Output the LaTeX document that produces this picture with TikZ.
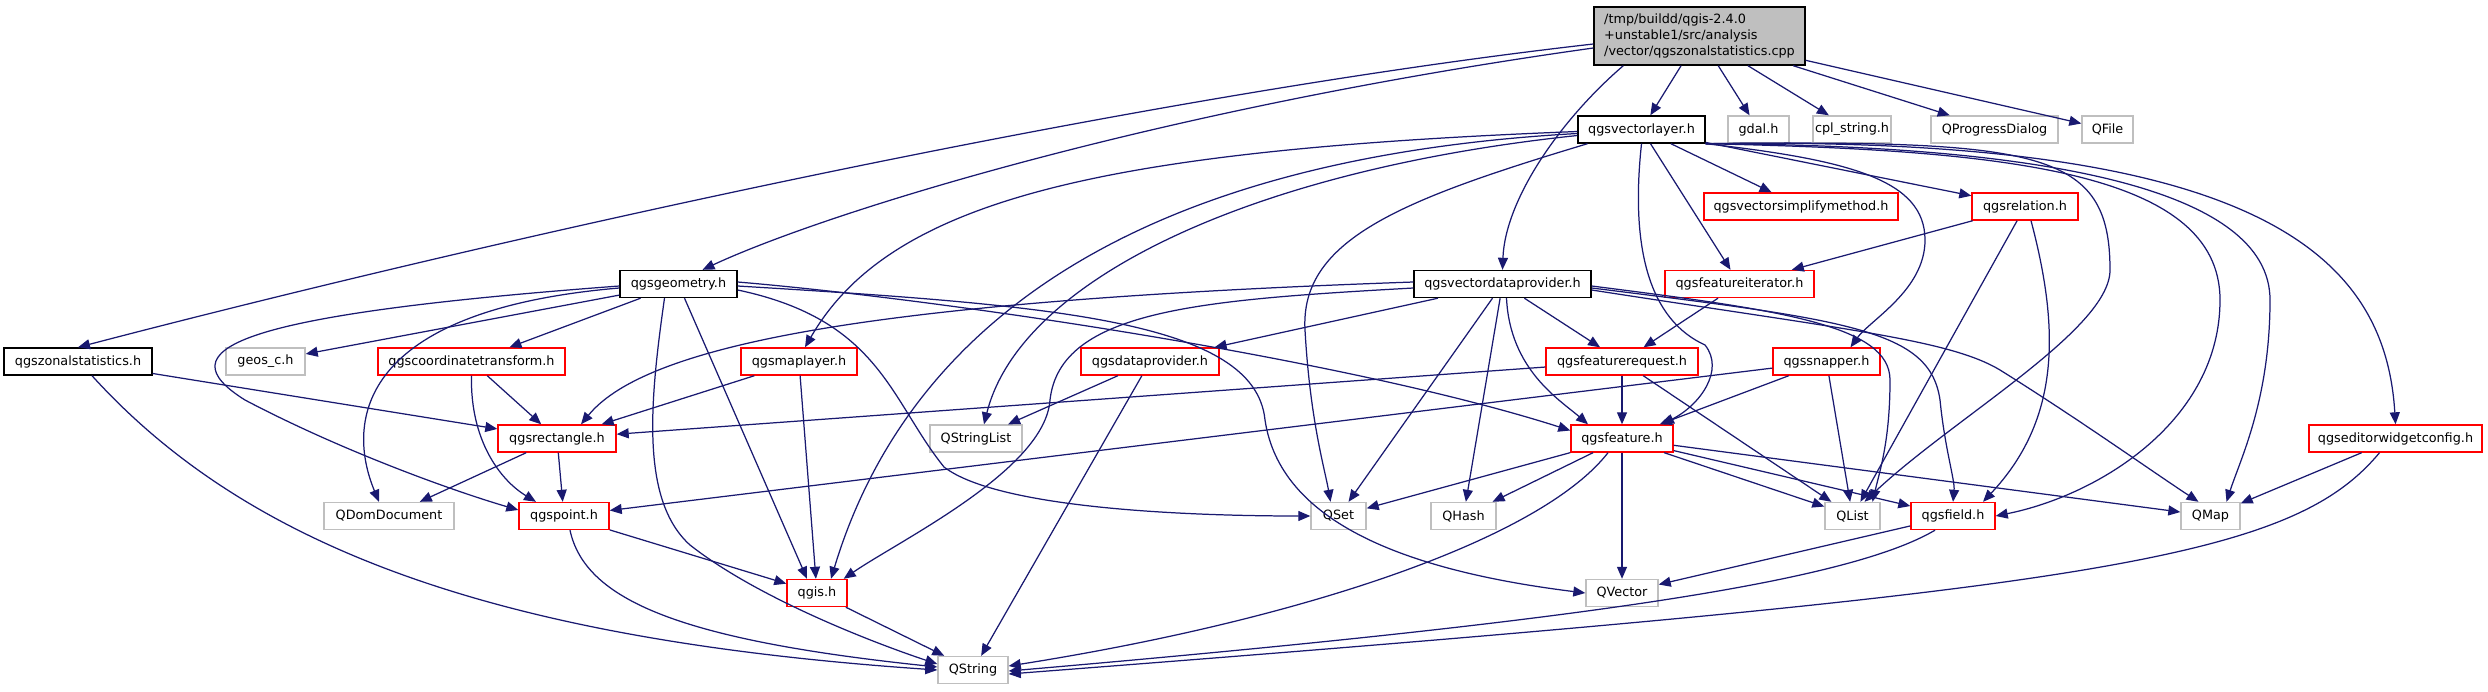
\documentclass[tikz,border=0pt]{standalone}
\usepackage{fontspec}
\setmainfont{DejaVu Sans}
\usetikzlibrary{arrows.meta}
\definecolor{edgeblue}{HTML}{191970}
\definecolor{boxgray}{HTML}{BFBFBF}

\begin{document}
\begin{tikzpicture}[
  x=0.5pt, y=-0.5pt,
  font=\fontsize{6.4}{7.9}\selectfont,
  file/.style={draw, line width=0.7pt, minimum height=13.5pt, inner sep=0pt, fill=white},
  doc/.style={file, draw=black},
  hdr/.style={file, draw=red},
  sys/.style={file, draw=boxgray},
  src/.style={file, draw=black, fill=boxgray, align=left, minimum height=29pt},
  dep/.style={-{Triangle[length=6pt,width=5pt]}, draw=edgeblue, line width=0.62pt}
]
\useasboundingbox (0,0) rectangle (2488,691);

% Source file
\node[src, minimum width=105.5pt] (root) at (1699.5,36)
  {/tmp/buildd/qgis-2.4.0\\+unstable1/src/analysis\\/vector/qgszonalstatistics.cpp};

% Direct includes
\node[doc, minimum width=63.5pt] (vlayer) at (1641.5,129.5) {qgsvectorlayer.h};
\node[sys, minimum width=30.5pt] (gdal) at (1758.5,129.5) {gdal.h};
\node[sys, minimum width=39pt] (cplstring) at (1852,129.5) {cpl\_string.h};
\node[sys, minimum width=63.5pt] (qprogress) at (1994.5,129.5) {QProgressDialog};
\node[sys, minimum width=25.5pt] (qfile) at (2107.5,129.5) {QFile};

\node[hdr, minimum width=97pt] (simplify) at (1801,206.5) {qgsvectorsimplifymethod.h};
\node[hdr, minimum width=53pt] (relation) at (2025,206.5) {qgsrelation.h};

\node[doc, minimum width=58.5pt] (geometry) at (678.5,284) {qgsgeometry.h};
\node[doc, minimum width=88.5pt] (vdp) at (1502.5,284) {qgsvectordataprovider.h};
\node[hdr, minimum width=74.5pt] (fiterator) at (1739.5,284) {qgsfeatureiterator.h};

\node[doc, minimum width=74pt] (zonal) at (78,361.5) {qgszonalstatistics.h};
\node[sys, minimum width=39.5pt] (geos) at (265.5,361.5) {geos\_c.h};
\node[hdr, minimum width=93.5pt] (coordtr) at (471.5,361.5) {qgscoordinatetransform.h};
\node[hdr, minimum width=58pt] (maplayer) at (799,361.5) {qgsmaplayer.h};
\node[hdr, minimum width=69pt] (dataprov) at (1150,361.5) {qgsdataprovider.h};
\node[hdr, minimum width=76pt] (frequest) at (1622,361.5) {qgsfeaturerequest.h};
\node[hdr, minimum width=53.5pt] (snapper) at (1826.5,361.5) {qgssnapper.h};

\node[hdr, minimum width=59pt] (rectangle) at (557,438.5) {qgsrectangle.h};
\node[sys, minimum width=46pt] (qstringlist) at (976,438.5) {QStringList};
\node[hdr, minimum width=51pt] (feature) at (1622,438.5) {qgsfeature.h};
\node[hdr, minimum width=86.5pt] (editorcfg) at (2395.5,438.5) {qgseditorwidgetconfig.h};

\node[sys, minimum width=65pt] (qdomdoc) at (389,516) {QDomDocument};
\node[hdr, minimum width=45pt] (point) at (564,516) {qgspoint.h};
\node[sys, minimum width=27.5pt] (qset) at (1338.5,516) {QSet};
\node[sys, minimum width=32.5pt] (qhash) at (1463.5,516) {QHash};
\node[sys, minimum width=27.5pt] (qlist) at (1852.5,516) {QList};
\node[hdr, minimum width=42pt] (field) at (1953,516) {qgsfield.h};
\node[sys, minimum width=29.5pt] (qmap) at (2210.5,516) {QMap};

\node[hdr, minimum width=30pt] (qgis) at (817,593) {qgis.h};
\node[sys, minimum width=36pt] (qvector) at (1622,593) {QVector};

\node[sys, minimum width=35pt] (qstring) at (973,670) {QString};

% From the source file
\draw[dep] (root) -- (vlayer);
\draw[dep] (root) -- (gdal);
\draw[dep] (root) -- (cplstring);
\draw[dep] (root) -- (qprogress);
\draw[dep] (root) -- (qfile);
\draw[dep] ([xshift=15pt]root.south west) .. controls (1560,120) and (1505,200) .. (vdp.north);
\draw[dep] ([yshift=-6pt]root.west) .. controls (1150,110) and (820,215) .. ([xshift=12pt]geometry.north);
\draw[dep] ([yshift=-4pt]root.west) .. controls (1100,100) and (450,250) .. (zonal.north);

% qgsvectorlayer.h
\draw[dep] (vlayer) -- (simplify);
\draw[dep] (vlayer) -- (relation);
\draw[dep] (vlayer) -- (fiterator);
\draw[dep] (vlayer.south) .. controls (1630,250) and (1650,320) .. (1705,345)
  .. controls (1725,370) and (1700,405) .. ([xshift=20pt]feature.north);
\draw[dep] (vlayer.south east) .. controls (1850,160) and (1925,180) .. (1925,240)
  .. controls (1925,290) and (1870,320) .. ([xshift=12pt]snapper.north);
\draw[dep] (vlayer.south east) .. controls (2040,140) and (2110,150) .. (2110,270)
  .. controls (2110,330) and (1950,420) .. ([xshift=6pt]qlist.north);
\draw[dep] (vlayer.south east) .. controls (2000,150) and (2220,170) .. (2220,300)
  .. controls (2220,420) and (2100,495) .. (field.east);
\draw[dep] (vlayer.south east) .. controls (2050,145) and (2270,190) .. (2270,300)
  .. controls (2270,400) and (2240,460) .. ([xshift=8pt]qmap.north);
\draw[dep] (vlayer.south east) .. controls (2250,135) and (2385,250) .. (editorcfg.north);
\draw[dep] ([xshift=-27pt]vlayer.south) .. controls (1400,200) and (1300,240) .. (1305,330)
  .. controls (1310,420) and (1325,470) .. ([xshift=-4pt]qset.north);
\draw[dep] ([yshift=-2pt]vlayer.west) .. controls (1100,160) and (900,350) .. ([xshift=7pt]qgis.north);
\draw[dep] ([yshift=-3pt]vlayer.west) .. controls (1250,170) and (1020,280) .. ([xshift=4pt]qstringlist.north);
\draw[dep] ([yshift=-1pt]vlayer.west) .. controls (1100,150) and (890,200) .. ([xshift=3pt]maplayer.north);

% qgsgeometry.h
\draw[dep] (geometry) -- (geos);
\draw[dep] (geometry) -- (coordtr);
\draw[dep] ([yshift=-2pt]geometry.west) .. controls (360,310) and (345,420) .. ([xshift=-5pt]qdomdoc.north);
\draw[dep] ([yshift=-1pt]geometry.west) .. controls (230,315) and (165,350) .. (245,400)
  .. controls (340,450) and (450,490) .. ([yshift=3pt]point.west);
\draw[dep] ([xshift=3pt]geometry.south) -- ([xshift=-5pt]qgis.north);
\draw[dep] ([xshift=-7pt]geometry.south) .. controls (650,400) and (640,500) .. (690,545)
  .. controls (760,600) and (880,645) .. ([yshift=3pt]qstring.west);
\draw[dep] ([yshift=-3pt]geometry.east) .. controls (880,320) and (890,400) .. (944,467)
  .. controls (1000,510) and (1200,516) .. (qset.west);
\draw[dep] ([yshift=1pt]geometry.east) .. controls (950,300) and (1350,360) .. ([yshift=4pt]feature.west);
\draw[dep] ([yshift=-1pt]geometry.east) .. controls (1050,305) and (1255,320) .. (1265,420)
  .. controls (1280,520) and (1400,570) .. (qvector.west);

% qgsvectordataprovider.h
\draw[dep] (vdp) -- (dataprov);
\draw[dep] ([yshift=1pt]vdp.west) .. controls (900,300) and (650,340) .. ([xshift=12pt]rectangle.north);
\draw[dep] ([yshift=-2pt]vdp.west) .. controls (1200,300) and (1060,310) .. (1050,400)
  .. controls (1045,470) and (900,540) .. ([xshift=-2pt]qgis.north east);
\draw[dep] (vdp) -- (qset);
\draw[dep] (vdp) -- (qhash);
\draw[dep] ([xshift=2pt]vdp.south) .. controls (1510,370) and (1560,400) .. ([xshift=-17pt]feature.north);
\draw[dep] (vdp) -- (frequest);
\draw[dep] ([yshift=-1pt]vdp.east) .. controls (1780,310) and (1890,325) .. (1890,380)
  .. controls (1890,440) and (1880,470) .. ([xshift=10pt]qlist.north);
\draw[dep] ([yshift=-2pt]vdp.east) .. controls (1850,320) and (1930,330) .. (1940,400)
  .. controls (1945,450) and (1955,480) .. (field.north);
\draw[dep] ([yshift=-3pt]vdp.east) .. controls (1850,330) and (1950,340) .. (2000,370)
  .. controls (2080,420) and (2150,470) .. ([xshift=-6pt]qmap.north);

% qgsrelation.h, qgsfeatureiterator.h
\draw[dep] (relation) -- (fiterator);
\draw[dep] (relation) -- (qlist);
\draw[dep] ([xshift=3pt]relation.south) .. controls (2060,330) and (2060,420) .. ([xshift=15pt]field.north);
\draw[dep] (fiterator) -- (frequest);

% Fourth row
\draw[dep] (zonal) -- (rectangle);
\draw[dep] ([xshift=7pt]zonal.south) .. controls (250,550) and (500,640) .. (qstring.west);
\draw[dep] (coordtr) -- (rectangle);
\draw[dep] (coordtr.south) .. controls (470,440) and (500,480) .. ([xshift=-14pt]point.north);
\draw[dep] (maplayer) -- (rectangle);
\draw[dep] (maplayer) -- (qgis);
\draw[dep] (dataprov) -- (qstringlist);
\draw[dep] (dataprov) -- (qstring);
\draw[dep] (frequest) -- (rectangle);
\draw[dep] (frequest) -- (feature);
\draw[dep] (frequest) -- (qlist);
\draw[dep] (snapper) -- (point);
\draw[dep] (snapper) -- (feature);
\draw[dep] (snapper) -- (qlist);

% Fifth row
\draw[dep] (rectangle) -- (qdomdoc);
\draw[dep] (rectangle) -- (point);
\draw[dep] (feature) -- (qset);
\draw[dep] (feature) -- (qhash);
\draw[dep] ([xshift=-7pt]feature.south) .. controls (1540,540) and (1300,620) .. ([yshift=2pt]qstring.east);
\draw[dep] (feature) -- (qvector);
\draw[dep] (feature) -- (qlist);
\draw[dep] (feature) -- (field);
\draw[dep] (feature) -- (qmap);
\draw[dep] (editorcfg) -- (qmap);
\draw[dep] ([xshift=-8pt]editorcfg.south) .. controls (2290,560) and (2100,590) .. ([yshift=-2pt]qstring.east);

% Lower rows
\draw[dep] (field) -- (qvector);
\draw[dep] ([xshift=-9pt]field.south) .. controls (1850,580) and (1600,620) .. ([yshift=-0.5pt]qstring.east);
\draw[dep] (point) -- (qgis);
\draw[dep] ([xshift=3pt]point.south) .. controls (585,600) and (680,640) .. ([yshift=1.5pt]qstring.west);
\draw[dep] (qgis) -- (qstring);

\end{tikzpicture}
\end{document}
